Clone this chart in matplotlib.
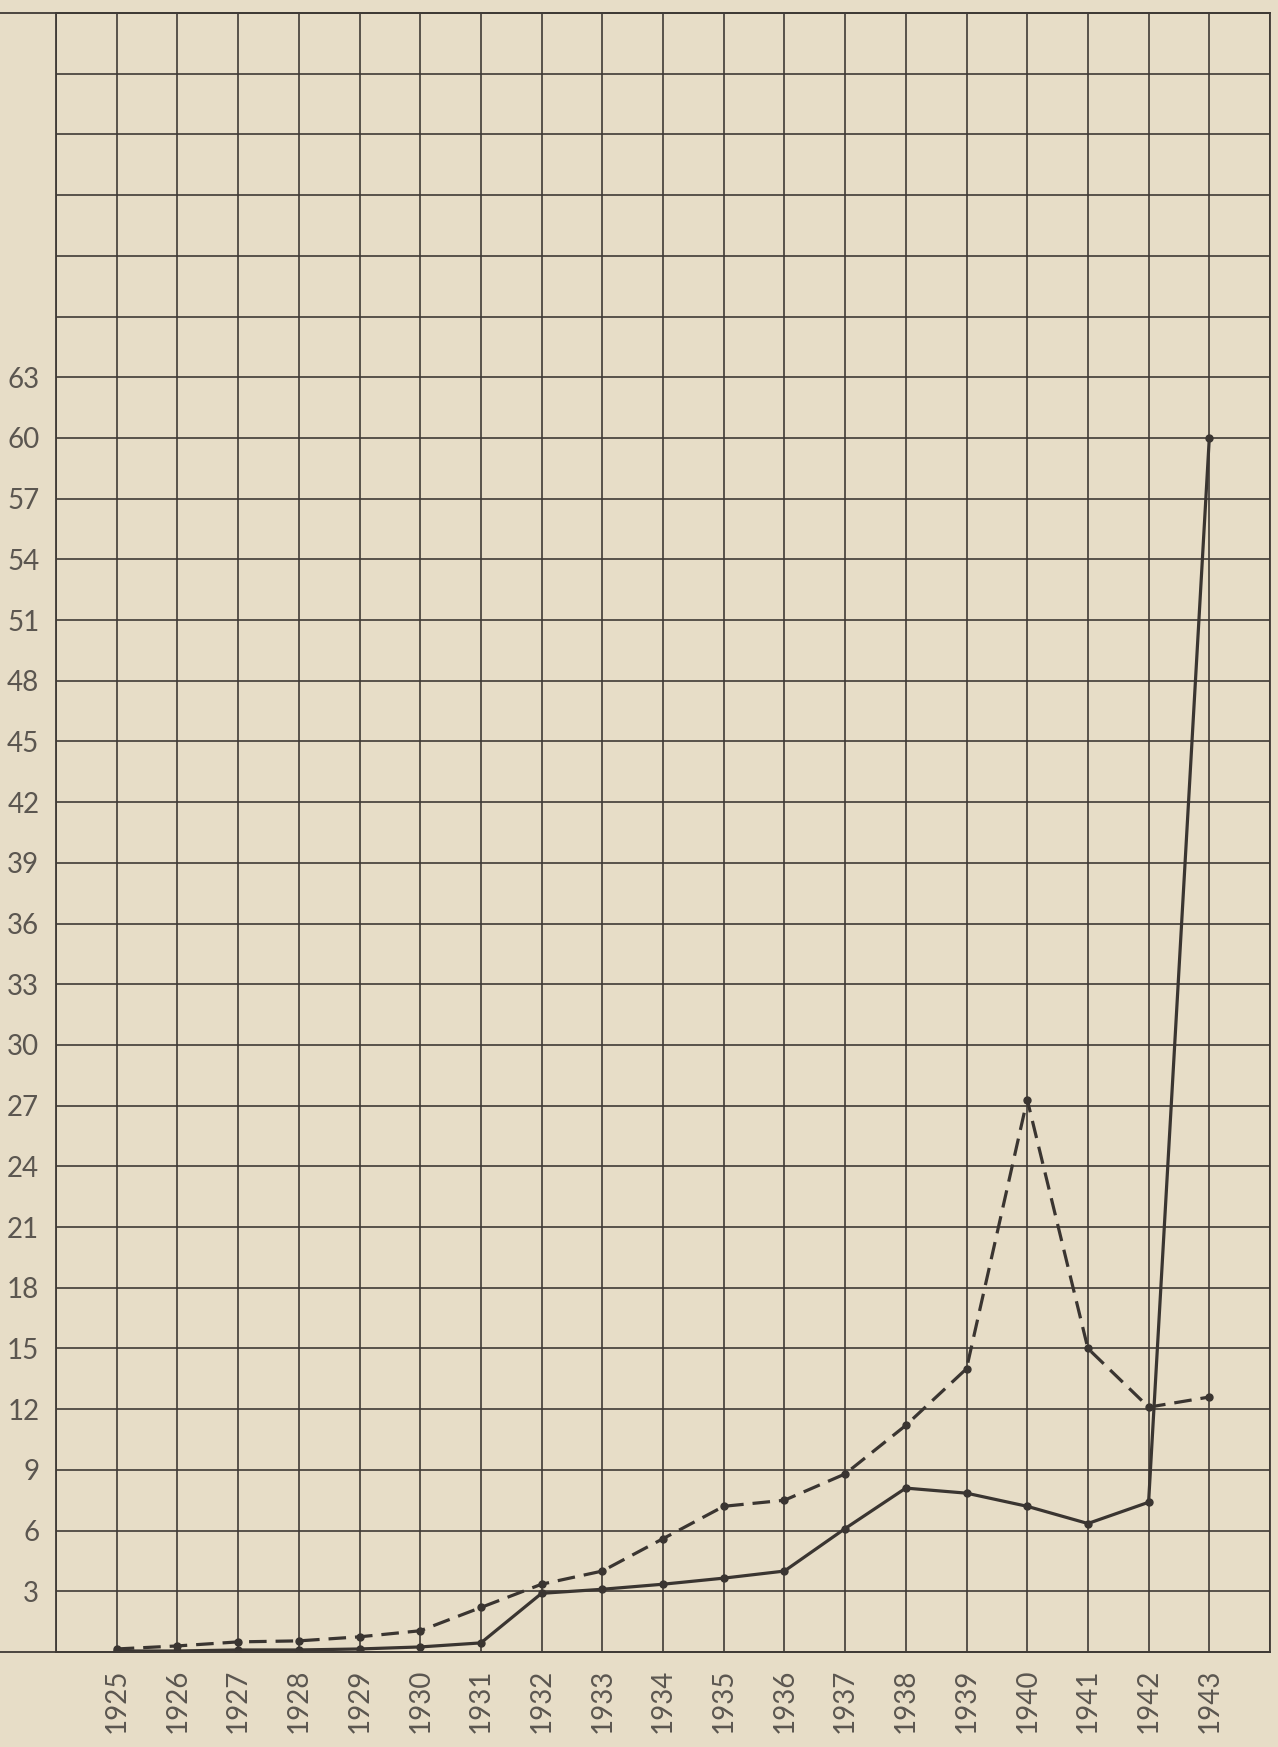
import matplotlib
matplotlib.use("Agg")
import matplotlib.pyplot as plt

# values
years = list(range(1925, 1944))
solid_vals = [0.05, 0.05, 0.1, 0.1, 0.15, 0.25, 0.45, 2.9, 3.1, 3.35, 3.65, 4.0,
              6.1, 8.1, 7.85, 7.2, 6.35, 7.4, 60.0]
dashed_vals = [0.15, 0.3, 0.5, 0.55, 0.75, 1.05, 2.2, 3.35, 4.0, 5.6, 7.2, 7.5,
               8.8, 11.2, 14.0, 27.3, 15.0, 12.1, 12.6]
y_labels = list(range(3, 64, 3))

paper = "#e7ddc7"
ink = "#3f3a35"
pencil = "#5b5650"

fig = plt.figure(figsize=(12.78, 17.47), dpi=100, facecolor=paper)
ax = fig.add_axes([56 / 1278, 95 / 1747, 1214 / 1278, 1639 / 1747])
ax.set_facecolor(paper)

ax.set_xlim(1924, 1944)
ax.set_ylim(0, 81)

ax.set_xticks(years, [str(y) for y in years], rotation=90, fontsize=20,
              color=pencil, family="Lato")
ax.set_yticks(y_labels, [str(v) for v in y_labels], fontsize=20,
              color=pencil, family="Lato")
ax.tick_params(axis="x", pad=12)
ax.tick_params(axis="y", pad=12)

# graph paper grid (minor ticks cover the unlabelled rows/columns)
ax.set_xticks([1924, 1944], minor=True)
ax.set_yticks(list(range(66, 82, 3)), minor=True)
ax.grid(which="both", color=ink, linewidth=1.2)
ax.set_axisbelow(True)
for sp in ax.spines.values():
    sp.set_color(ink)
    sp.set_linewidth(1.3)
ax.tick_params(which="both", length=0)

# bottom and top rules run off to the left edge of the sheet
ax.axhline(0, xmin=-0.05, xmax=1, color=ink, linewidth=1.3, clip_on=False)
ax.axhline(81, xmin=-0.05, xmax=1, color=ink, linewidth=1.3, clip_on=False)

ax.plot(years, solid_vals, color="#3a3531", linewidth=2.3, marker="o",
        markersize=5, solid_joinstyle="round")
ax.plot(years, dashed_vals, color="#3a3531", linewidth=2.3, marker="o",
        markersize=5, linestyle=(0, (5.5, 2.8)))

fig.savefig("out.png", dpi=100, facecolor=paper)
